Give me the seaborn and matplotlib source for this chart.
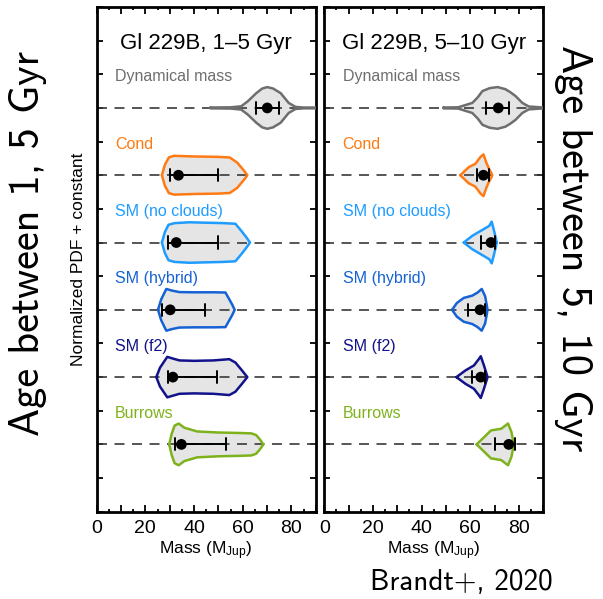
import numpy as np
import pandas as pd
import matplotlib
matplotlib.use("Agg")
import matplotlib.pyplot as plt
import seaborn as sns
from matplotlib.ticker import MultipleLocator, FuncFormatter

# ---------------- data ----------------
models = ["Dynamical mass", "Cond", "SM (no clouds)", "SM (hybrid)", "SM (f2)", "Burrows"]
colors = ["#6e6e6e", "#ff7a12", "#1e9cff", "#1562d4", "#12128a", "#7eb21c"]
panel_titles = ["Gl 229B, 1\u20135 Gyr", "Gl 229B, 5\u201310 Gyr"]
side_labels = ["Age between 1, 5 Gyr", "Age between 5, 10 Gyr"]

# Age 1-5 Gyr: mass grid (MJup) and normalized PDF
dyn_young_m = [46.7, 55, 59.4, 62.1, 65.6, 68, 70.1, 72.5, 75.6, 78.9, 81.7, 85, 90]
dyn_young_pdf = [0.02, 0.03, 0.08, 0.32, 0.71, 0.93, 1.0, 0.93, 0.71, 0.24, 0.05, 0.02, 0.02]
cond_young_m = [26.8, 28.0, 29.7, 31.8, 40, 50, 54.7, 57.8, 60.0, 61.0, 61.9]
cond_young_pdf = [0.0, 0.5, 0.86, 0.93, 0.9, 0.88, 0.85, 0.6, 0.29, 0.15, 0.0]
smnc_young_m = [26.8, 28, 29.5, 32, 38, 45, 52, 57, 59.5, 61.5, 63]
smnc_young_pdf = [0.0, 0.5, 0.85, 0.93, 0.97, 0.95, 0.93, 0.9, 0.55, 0.25, 0.0]
smhy_young_m = [25.2, 26.5, 28.6, 31, 34, 40, 48, 52.9, 54.5, 55.7, 56.7]
smhy_young_pdf = [0.0, 0.5, 1.0, 0.92, 0.85, 0.84, 0.84, 0.83, 0.5, 0.25, 0.0]
smf2_young_m = [24.5, 26, 29, 31, 34, 40, 48, 54.5, 57, 59.5, 61.9]
smf2_young_pdf = [0.0, 0.45, 0.97, 0.9, 0.8, 0.78, 0.8, 0.86, 0.7, 0.35, 0.0]
bur_young_m = [29.8, 30.8, 32, 33.7, 36, 41.3, 50, 58, 63.5, 65.5, 67, 68.5]
bur_young_pdf = [0.0, 0.5, 0.9, 1.0, 0.8, 0.62, 0.57, 0.55, 0.53, 0.45, 0.25, 0.0]

# Age 5-10 Gyr
dyn_old_m = [49, 55, 60.8, 63, 65, 68, 71.2, 74.4, 76.5, 78.6, 81.4, 84, 90]
dyn_old_pdf = [0.02, 0.03, 0.24, 0.5, 0.81, 0.95, 1.0, 0.9, 0.75, 0.57, 0.24, 0.07, 0.02]
cond_old_m = [55.9, 59.3, 62.1, 64.2, 65.4, 66.6, 67.7, 68.7, 69.0]
cond_old_pdf = [0.0, 0.38, 0.55, 0.88, 1.0, 0.6, 0.3, 0.1, 0.0]
smnc_old_m = [57.3, 60.8, 64.3, 67.8, 68.8, 69.9, 70.9]
smnc_old_pdf = [0.0, 0.32, 0.56, 0.8, 1.0, 0.5, 0.0]
smhy_old_m = [52.5, 54.5, 57.3, 60.8, 62.9, 64.7, 66.1, 67.1]
smhy_old_pdf = [0.0, 0.33, 0.57, 0.68, 0.82, 1.0, 0.65, 0.0]
smf2_old_m = [54.3, 58, 61.5, 63.6, 64.3, 65.6, 67.1]
smf2_old_pdf = [0.0, 0.32, 0.56, 0.88, 1.0, 0.56, 0.0]
bur_old_m = [62.6, 65.7, 68.5, 72.7, 75.5, 76.9, 77.9]
bur_old_pdf = [0.0, 0.35, 0.67, 0.75, 1.0, 0.6, 0.0]

# medians and 16/84 percentiles
young_median = [70.1, 33.6, 32.7, 30.2, 31.3, 34.8]
young_lo = [65.6, 30.2, 29.5, 26.8, 29.3, 32.0]
young_hi = [74.9, 49.9, 49.7, 44.7, 49.5, 53.3]
old_median = [71.5, 65.4, 68.5, 64.0, 64.3, 75.8]
old_lo = [66.4, 62.6, 64.3, 59.0, 60.8, 70.1]
old_hi = [75.8, 67.8, 70.2, 65.9, 66.2, 78.3]

# ---------------- style ----------------
sns.set_style("ticks")
plt.rcParams["font.family"] = ["Liberation Sans", "DejaVu Sans"]
plt.rcParams["mathtext.fontset"] = "custom"
plt.rcParams["mathtext.rm"] = "Liberation Sans"
plt.rcParams["mathtext.it"] = "Liberation Sans:italic"
for k in ["text.color", "axes.labelcolor", "xtick.color", "ytick.color", "axes.edgecolor"]:
    plt.rcParams[k] = "black"

young_pdfs = [(dyn_young_m, dyn_young_pdf), (cond_young_m, cond_young_pdf),
              (smnc_young_m, smnc_young_pdf), (smhy_young_m, smhy_young_pdf),
              (smf2_young_m, smf2_young_pdf), (bur_young_m, bur_young_pdf)]
old_pdfs = [(dyn_old_m, dyn_old_pdf), (cond_old_m, cond_old_pdf),
            (smnc_old_m, smnc_old_pdf), (smhy_old_m, smhy_old_pdf),
            (smf2_old_m, smf2_old_pdf), (bur_old_m, bur_old_pdf)]

W, H = 603, 599
fig = plt.figure(figsize=(W / 100, H / 100), dpi=100)
ax_l = fig.add_axes([96.7 / W, (H - 511.7) / H, 219 / W, 504.7 / H])
ax_r = fig.add_axes([324.3 / W, (H - 511.7) / H, 219 / W, 504.7 / H])

half_w = 0.31
rows = [5, 4, 3, 2, 1, 0]

for ax, pdfs, med, lo, hi, title in [
        (ax_l, young_pdfs, young_median, young_lo, young_hi, panel_titles[0]),
        (ax_r, old_pdfs, old_median, old_lo, old_hi, panel_titles[1])]:
    ax.set_xlim(0, 90)
    ax.set_ylim(-1, 6.5)
    for i, (m, p) in enumerate(pdfs):
        y0 = rows[i]
        m = np.asarray(m, float)
        p = np.asarray(p, float) * half_w
        ax.fill_between(m, y0 - p, y0 + p, color="#e5e5e5", lw=0, zorder=1)
        ax.axhline(y0, color="#3a3a3a", lw=1.2, dashes=(6, 4.5), zorder=2)
        ax.plot(np.concatenate([m, m[::-1], m[:1]]),
                np.concatenate([y0 + p, (y0 - p)[::-1], [y0 + p[0]]]),
                color=colors[i], lw=1.8, zorder=3, solid_joinstyle="round")
        # error bar
        ax.plot([lo[i], hi[i]], [y0, y0], color="black", lw=1.4, zorder=4)
        for xv in (lo[i], hi[i]):
            ax.plot([xv, xv], [y0 - 0.09, y0 + 0.09], color="black", lw=1.4, zorder=4)
        ax.text(7.5, y0 + 0.46, models[i], color=colors[i], fontsize=11.5,
                ha="left", va="center")
    df = pd.DataFrame({"mass": med, "row": rows})
    sns.scatterplot(data=df, x="mass", y="row", color="black", s=60,
                    edgecolor="none", zorder=5, ax=ax, legend=False)
    ax.text(0.5, 0.928, title, transform=ax.transAxes, fontsize=16,
            ha="center", va="center")
    ax.set_ylabel("")
    ax.set_xlabel("Mass (M$_{\\rm Jup}$)", fontsize=12.5, labelpad=2)
    ax.xaxis.set_major_locator(MultipleLocator(10))
    ax.xaxis.set_minor_locator(MultipleLocator(5))
    ax.xaxis.set_major_formatter(FuncFormatter(
        lambda v, pos: f"{int(round(v))}" if int(round(v)) % 20 == 0 else ""))
    ax.yaxis.set_major_locator(MultipleLocator(0.5))
    ax.set_yticklabels([])
    ax.tick_params(axis="both", which="major", direction="in", length=5,
                   width=1.3, top=True, right=True, labelsize=14, pad=6)
    ax.tick_params(axis="both", which="minor", direction="in", length=2.5,
                   width=1.3, top=True, right=True)
    ax.tick_params(axis="y", which="major", length=4)
    for s in ax.spines.values():
        s.set_linewidth(2.0)
        s.set_visible(True)

ax_l.set_ylabel("Normalized PDF + constant", fontsize=12.5, labelpad=2)

fig.text(28 / W, 1 - 244 / H, side_labels[0], family=["cmss10", "DejaVu Sans"],
         fontsize=30.5, rotation=90, ha="center", va="center")
fig.text(573 / W, 1 - 248 / H, side_labels[1], family=["cmss10", "DejaVu Sans"],
         fontsize=30.5, rotation=270, ha="center", va="center")
fig.text(553 / W, 1 - 583 / H, "Brandt+, 2020", family=["cmss10", "DejaVu Sans"],
         fontsize=21, ha="right", va="center")

fig.savefig("out.png", dpi=100)
